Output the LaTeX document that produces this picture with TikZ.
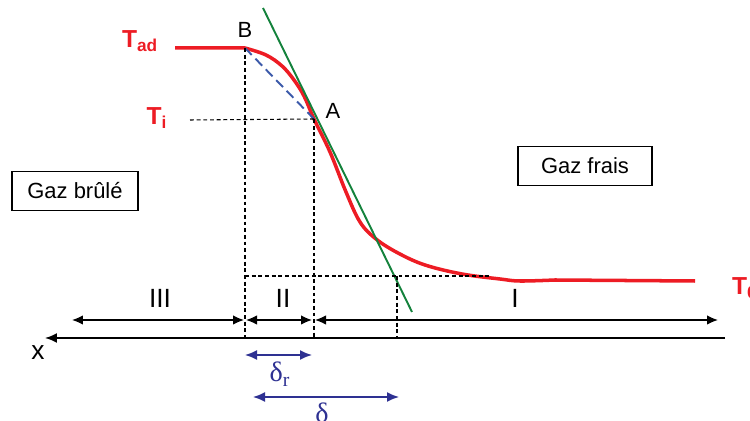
\documentclass[tikz,border=0pt]{standalone}
\usepackage{fontspec}
\setmainfont{Liberation Sans}
\newfontfamily\grecfont{Liberation Serif}
\usetikzlibrary{arrows.meta,positioning,calc}
\definecolor{rouge}{RGB}{237,28,36}
\definecolor{vert}{RGB}{20,130,60}
\definecolor{bleu}{RGB}{46,49,146}
\definecolor{bleuclair}{RGB}{60,90,170}
\tikzset{
  profil/.style={rouge, line width=2pt, line join=round},
  pointilles/.style={dash pattern=on 2.2pt off 1.6pt, line width=0.6pt},
  zone/.style={{Latex[length=2.2mm,width=1.9mm]}-{Latex[length=2.2mm,width=1.9mm]}, line width=0.7pt},
  epaisseur/.style={{Latex[length=2.4mm,width=2mm]}-{Latex[length=2.4mm,width=2mm]}, bleu, line width=0.9pt},
  boite/.style={rectangle, draw, line width=0.8pt, font=\fontsize{12.5}{14}\selectfont, minimum height=0.78cm},
  temp/.style={rouge, font=\bfseries\fontsize{14}{16}\selectfont},
  point/.style={font=\fontsize{12.5}{14}\selectfont},
  chiffre/.style={font=\fontsize{15}{17}\selectfont},
  grec/.style={bleu, font=\grecfont\fontsize{16}{18}\selectfont}
}

\begin{document}
\begin{tikzpicture}[x=0.02cm,y=-0.02cm]
\useasboundingbox (0,0) rectangle (750,421);

\coordinate (Tg) at (175,48);
\coordinate (B) at (245,48);
\coordinate (A) at (314,119);
\coordinate (Td) at (695,281);
\coordinate (Ti) at (190,120);
\coordinate (Bb) at (245,338);
\coordinate (Ab) at (314,338);
\coordinate (Dh) at (245,276);
\coordinate (Dd) at (397,276);
\coordinate (Db) at (397,338);
\coordinate (Dr) at (490,276);
\coordinate (Vh) at (263,8);
\coordinate (Vb) at (412,312);

% profil de temperature
\draw[profil] (Tg) -- (B) plot[smooth, tension=0.6] coordinates {(245,48) (266,55) (282,66) (294,80) (304,96) (314,119) (330,152) (346,192) (360,222) (376,239) (398,253) (425,265) (462,274) (500,279) (520,281) (555,280)} -- (Td);

% tangente et corde
\draw[vert, line width=1.1pt] (Vh) -- (Vb);
\draw[bleuclair, line width=1.1pt, dash pattern=on 5.5pt off 3pt] (B) -- (A);

% pointilles
\draw[pointilles] (B) -- (Bb);
\draw[pointilles] (A) -- (Ab);
\draw[pointilles] (Ti) -- (A);
\draw[pointilles] (Dh) -- (Dr);
\draw[pointilles] (Dd) -- (Db);

% axe
\node[font=\fontsize{15}{17}\selectfont] (x) at (38,353) {x};
\draw[-{Latex[length=2.4mm,width=2mm]}, line width=1pt] (725,338) coordinate (xd) -- (45,338) coordinate (xg);

% zones
\draw[zone] (72,320) coordinate (z3g) -- (244,320) coordinate (z3d);
\draw[zone] (246,320) coordinate (z2g) -- (312,320) coordinate (z2d);
\draw[zone] (315,320) coordinate (z1g) -- (718,320) coordinate (z1d);
\node[chiffre] (III) at (160,298) {III};
\node[chiffre] (II) at (283,298) {II};
\node[chiffre] (I) at (515,298) {I};

% epaisseurs
\draw[epaisseur] (245,355) coordinate (drg) -- (312,355) coordinate (drd);
\node[grec] (deltar) at (280,374) {δ\textsubscript{r}};
\draw[epaisseur] (253,397) coordinate (dg) -- (399,397) coordinate (dd);
\node[grec] (delta) at (322,413) {δ};

% etiquettes
\node[temp] (Tad) at (140,41) {T\textsubscript{ad}};
\node[temp] (Tilab) at (157,118) {T\textsubscript{i}};
\node[temp, anchor=west] (T0) at (726,288) {T\textsubscript{0}};
\node[point] (Blab) at (245,30) {B};
\node[point] (Alab) at (333,111) {A};

\node[boite, minimum width=2.52cm] (brule) at (75,191) {Gaz brûlé};
\node[boite, minimum width=2.68cm] (frais) at (585,166) {Gaz frais};
\end{tikzpicture}
\end{document}
